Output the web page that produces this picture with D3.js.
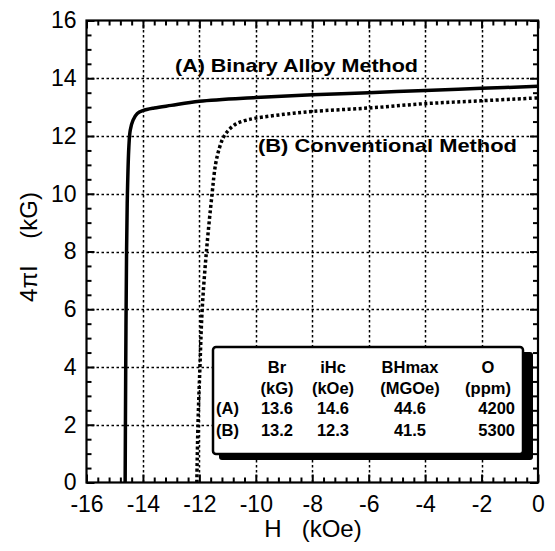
<!DOCTYPE html>
<html lang="en">
<head>
<meta charset="UTF-8">
<title>4piI - H</title>
<script src="https://cdn.jsdelivr.net/npm/d3@7/dist/d3.min.js"></script>
<style>
  body { margin: 0; background: #fff; }
  svg { font-family: "Liberation Sans", Arial, sans-serif; }
  .tick text { font-size: 23px; fill: #000; }
  .bold { font-weight: bold; }
</style>
</head>
<body>
<script>
// demagnetization curves, [H (kOe), 4piI (kG)]
var curveA = [[-14.63,0],[-14.61,4],[-14.58,8],[-14.55,10],[-14.5,11.6],[-14.45,12.2],[-14.35,12.55],
  [-14.2,12.78],[-14.0,12.88],[-13.6,12.97],[-13,13.06],[-12,13.2],[-10,13.33],[-8,13.43],
  [-6,13.5],[-4,13.58],[-2,13.65],[0,13.72]];
var curveB = [[-12.09,0],[-12.05,2],[-11.98,4],[-11.9,6],[-11.75,8],[-11.55,10],[-11.43,11],
  [-11.3,11.55],[-11.15,11.95],[-10.95,12.22],[-10.7,12.42],[-10.4,12.53],[-10,12.62],
  [-9,12.75],[-8,12.85],[-6,12.97],[-4,13.12],[-2,13.22],[0,13.32]];

var xTicks = [-16,-14,-12,-10,-8,-6,-4,-2,0];
var yTicks = [0,2,4,6,8,10,12,14,16];

// table in the box
var tableHead = ["Br","iHc","BHmax","O"];
var tableUnits = ["(kG)","(kOe)","(MGOe)","(ppm)"];
var rowNames = ["(A)","(B)"];
var rowA = ["13.6","14.6","44.6","4200"];
var rowB = ["13.2","12.3","41.5","5300"];

var svg = d3.select("body").append("svg").attr("width", 555).attr("height", 551);

var x = d3.scaleLinear().domain([-16, 0]).range([86.5, 538]);
var y = d3.scaleLinear().domain([0, 16]).range([482.5, 20.5]);

var xMinor = d3.range(-16, 0.001, 0.4).filter(v => Math.abs(v / 2 - Math.round(v / 2)) > 0.01);
var yMinor = d3.range(0, 16.001, 0.5).filter(v => v % 2 != 0);

/* GRID */
var grid = svg.append("g")
  .attr("stroke", "#000").attr("stroke-width", 1.5).attr("stroke-dasharray", "2.5,2.5");
grid.selectAll("line.gx").data(xTicks.slice(1, -1)).enter().append("line")
  .attr("class", "gx")
  .attr("x1", d => Math.round(x(d)) + 0.5).attr("x2", d => Math.round(x(d)) + 0.5)
  .attr("y1", y(0)).attr("y2", y(16));
grid.selectAll("line.gy").data(yTicks.slice(1, -1)).enter().append("line")
  .attr("class", "gy")
  .attr("y1", d => Math.round(y(d)) + 0.5).attr("y2", d => Math.round(y(d)) + 0.5)
  .attr("x1", x(-16)).attr("x2", x(0));

/* AXES (ticks inward on all sides) */
function noMinus(d) { return String(d); }
svg.append("g").attr("transform", "translate(0," + y(0) + ")")
  .call(d3.axisBottom(x).tickValues(xTicks).tickSize(-8).tickPadding(13).tickFormat(noMinus));
svg.append("g").attr("transform", "translate(0," + y(0) + ")")
  .call(d3.axisBottom(x).tickValues(xMinor).tickSize(-5).tickFormat(""));
svg.append("g").attr("transform", "translate(0," + y(16) + ")")
  .call(d3.axisTop(x).tickValues(xTicks).tickSize(-8).tickFormat(""));
svg.append("g").attr("transform", "translate(0," + y(16) + ")")
  .call(d3.axisTop(x).tickValues(xMinor).tickSize(-5).tickFormat(""));
svg.append("g").attr("transform", "translate(" + x(-16) + ",0)")
  .call(d3.axisLeft(y).tickValues(yTicks).tickSize(-8).tickPadding(10));
svg.append("g").attr("transform", "translate(" + x(-16) + ",0)")
  .call(d3.axisLeft(y).tickValues(yMinor).tickSize(-5).tickFormat(""));
svg.append("g").attr("transform", "translate(" + x(0) + ",0)")
  .call(d3.axisRight(y).tickValues(yTicks).tickSize(-8).tickFormat(""));
svg.append("g").attr("transform", "translate(" + x(0) + ",0)")
  .call(d3.axisRight(y).tickValues(yMinor).tickSize(-5).tickFormat(""));
svg.selectAll(".domain").remove();
svg.selectAll(".tick line").attr("stroke-width", 2);

svg.append("rect")
  .attr("x", x(-16)).attr("y", y(16))
  .attr("width", x(0) - x(-16)).attr("height", y(0) - y(16))
  .attr("fill", "none").attr("stroke", "#000").attr("stroke-width", 2.2);

/* CURVES */
var line = d3.line().x(d => x(d[0])).y(d => y(d[1])).curve(d3.curveCatmullRom.alpha(0.5));
svg.append("path").attr("d", line(curveA))
  .attr("fill", "none").attr("stroke", "#000").attr("stroke-width", 3.5);
svg.append("path").attr("d", line(curveB))
  .attr("fill", "none").attr("stroke", "#000").attr("stroke-width", 3.5)
  .attr("stroke-dasharray", "3,2.5");

/* CURVE LABELS */
svg.append("text").attr("class", "bold")
  .attr("x", 175).attr("y", 72).attr("font-size", 18.5)
  .attr("textLength", 243).attr("lengthAdjust", "spacingAndGlyphs")
  .text("(A) Binary Alloy Method");
svg.append("text").attr("class", "bold")
  .attr("x", 258).attr("y", 152).attr("font-size", 18.5)
  .attr("textLength", 259).attr("lengthAdjust", "spacingAndGlyphs")
  .text("(B) Conventional Method");

/* TABLE BOX */
var box = svg.append("g");
box.append("rect").attr("x", 219).attr("y", 352).attr("width", 314).attr("height", 108)
  .attr("rx", 3).attr("fill", "#000");
box.append("rect").attr("x", 213).attr("y", 347).attr("width", 310).attr("height", 107)
  .attr("rx", 3).attr("fill", "#fff").attr("stroke", "#000").attr("stroke-width", 2.5);

var colX = [277, 333, 410, 488];
var rowY = [373, 394, 414, 436];
box.selectAll(".th").data(tableHead).enter().append("text").attr("class", "bold")
  .attr("x", (d, i) => colX[i]).attr("y", rowY[0]).attr("text-anchor", "middle")
  .attr("font-size", 16.5).text(d => d);
box.selectAll(".tu").data(tableUnits).enter().append("text").attr("class", "bold")
  .attr("x", (d, i) => colX[i]).attr("y", rowY[1]).attr("text-anchor", "middle")
  .attr("font-size", 16.5).text(d => d);
[rowA, rowB].forEach(function(row, r) {
  box.append("text").attr("class", "bold")
    .attr("x", 216).attr("y", rowY[2 + r]).attr("font-size", 16.5).text(rowNames[r]);
  box.selectAll(".tv" + r).data(row).enter().append("text").attr("class", "bold")
    .attr("x", (d, i) => i == 3 ? 515 : colX[i])
    .attr("y", rowY[2 + r])
    .attr("text-anchor", (d, i) => i == 3 ? "end" : "middle")
    .attr("font-size", 16.5).text(d => d);
});

/* AXIS TITLES */
svg.append("text")
  .attr("x", 313).attr("y", 537).attr("text-anchor", "middle")
  .attr("font-size", 24).style("white-space", "pre")
  .text("H   (kOe)");
svg.append("text")
  .attr("transform", "translate(37,247) rotate(-90)").attr("text-anchor", "middle")
  .attr("font-size", 24).style("white-space", "pre")
  .text("4\u03c0I    (kG)");
</script>
</body>
</html>
